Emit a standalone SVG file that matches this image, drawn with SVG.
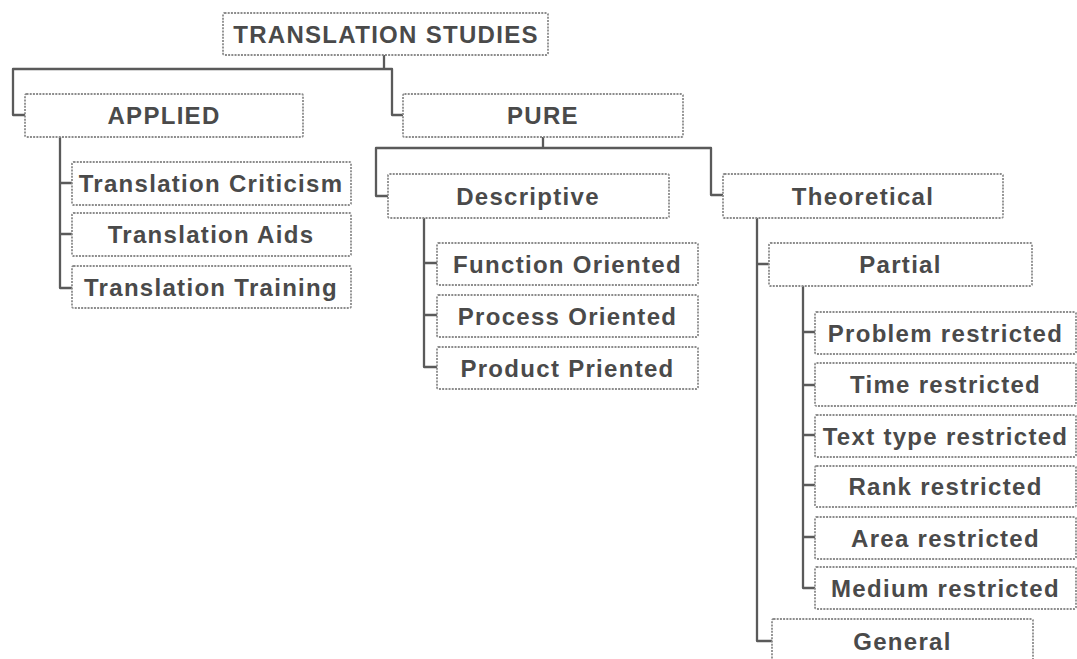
<svg xmlns="http://www.w3.org/2000/svg" width="1077" height="659" viewBox="0 0 1077 659">
<style>
.box{fill:#fff;stroke:#8c8c8c;stroke-width:1.8;stroke-dasharray:2 1.2}
.lbl{font-family:"Liberation Sans",Arial,sans-serif;font-weight:bold;font-size:24px;letter-spacing:1.3px;fill:#4a4a4a;text-anchor:middle}
.con{fill:none;stroke:#5a5a5a;stroke-width:2.3;stroke-linejoin:round}
</style>
<rect width="1077" height="659" fill="#fff"/>
<g id="connectors">
<path class="con" d="M384,55 V69 M25,115 H13 V69 H392 V115 H403"/>
<path class="con" d="M60,137 V288 H72 M60,183 H72 M60,234 H72"/>
<path class="con" d="M543,137 V148 M388,196 H376 V148 H711 V195 H723"/>
<path class="con" d="M424,218 V367 H437 M424,263 H437 M424,315 H437"/>
<path class="con" d="M757,218 V641 H772 M757,264 H769"/>
<path class="con" d="M803,286 V588 H815 M803,332 H815 M803,385 H815 M803,435 H815 M803,485 H815 M803,537 H815"/>
</g>
<g id="translation-studies"><rect class="box" x="223" y="13" width="325" height="42" rx="1.5"/><text class="lbl" x="386" y="42.5">TRANSLATION STUDIES</text></g>
<g id="applied"><rect class="box" x="25" y="94" width="278" height="43" rx="1.5"/><text class="lbl" x="164" y="124">APPLIED</text></g>
<g id="pure"><rect class="box" x="403" y="94" width="280" height="43" rx="1.5"/><text class="lbl" x="543" y="124">PURE</text></g>
<g id="translation-criticism"><rect class="box" x="72" y="162" width="279" height="43" rx="1.5"/><text class="lbl" x="211" y="192">Translation Criticism</text></g>
<g id="translation-aids"><rect class="box" x="72" y="213" width="279" height="43" rx="1.5"/><text class="lbl" x="211" y="243">Translation Aids</text></g>
<g id="translation-training"><rect class="box" x="72" y="266" width="279" height="42" rx="1.5"/><text class="lbl" x="211" y="295.5">Translation Training</text></g>
<g id="descriptive"><rect class="box" x="388" y="174" width="281" height="44" rx="1.5"/><text class="lbl" x="528" y="204.5">Descriptive</text></g>
<g id="theoretical"><rect class="box" x="723" y="174" width="280" height="44" rx="1.5"/><text class="lbl" x="863" y="204.5">Theoretical</text></g>
<g id="function-oriented"><rect class="box" x="437" y="243" width="261" height="42" rx="1.5"/><text class="lbl" x="567.5" y="272.5">Function Oriented</text></g>
<g id="process-oriented"><rect class="box" x="437" y="295" width="261" height="42" rx="1.5"/><text class="lbl" x="567.5" y="324.5">Process Oriented</text></g>
<g id="product-oriented"><rect class="box" x="437" y="347" width="261" height="42" rx="1.5"/><text class="lbl" x="567.5" y="376.5">Product Priented</text></g>
<g id="partial"><rect class="box" x="769" y="243" width="263" height="43" rx="1.5"/><text class="lbl" x="900.5" y="273">Partial</text></g>
<g id="problem-restricted"><rect class="box" x="815" y="312" width="261" height="42" rx="1.5"/><text class="lbl" x="945.5" y="341.5">Problem restricted</text></g>
<g id="time-restricted"><rect class="box" x="815" y="363" width="261" height="43" rx="1.5"/><text class="lbl" x="945.5" y="393">Time restricted</text></g>
<g id="text-type-restricted"><rect class="box" x="815" y="415" width="261" height="42" rx="1.5"/><text class="lbl" x="945.5" y="444.5">Text type restricted</text></g>
<g id="rank-restricted"><rect class="box" x="815" y="466" width="261" height="41" rx="1.5"/><text class="lbl" x="945.5" y="495">Rank restricted</text></g>
<g id="area-restricted"><rect class="box" x="815" y="517" width="261" height="42" rx="1.5"/><text class="lbl" x="945.5" y="546.5">Area restricted</text></g>
<g id="medium-restricted"><rect class="box" x="815" y="567" width="261" height="42" rx="1.5"/><text class="lbl" x="945.5" y="596.5">Medium restricted</text></g>
<g id="general"><rect class="box" x="772" y="619" width="261" height="44" rx="1.5"/><text class="lbl" x="902.5" y="649.5">General</text></g>
</svg>
